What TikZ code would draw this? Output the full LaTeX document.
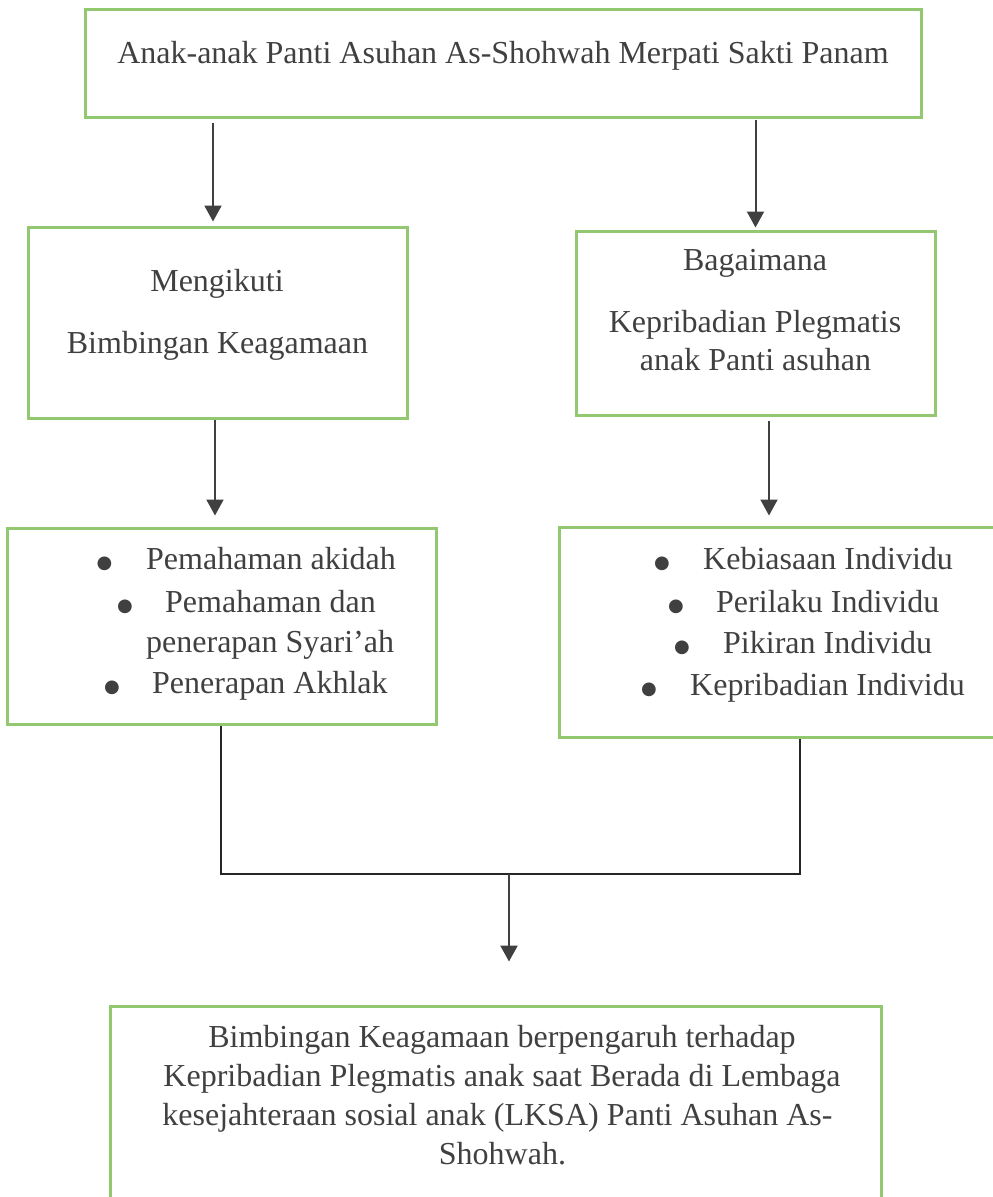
\documentclass[tikz,border=0pt]{standalone}
\usepackage{fontspec}
\setmainfont{Liberation Serif}
\newfontfamily\bulfont{DejaVu Sans}
\usetikzlibrary{arrows.meta,calc}
\definecolor{boxgreen}{RGB}{146,200,112}
\definecolor{inkgray}{RGB}{64,64,64}
\begin{document}
\begin{tikzpicture}[x=1pt,y=-1pt,
  box/.style={draw=boxgreen,line width=3pt,inner sep=0pt,fill=none},
  txt/.style={text=inkgray,font=\fontsize{32}{39}\selectfont,inner sep=0pt,anchor=base},
  ltxt/.style={txt,anchor=base west},
  bul/.style={text=inkgray,font=\bulfont\fontsize{18}{18}\selectfont,inner sep=0pt,anchor=base},
  arr/.style={draw=inkgray,line width=2pt,-{Triangle[width=17pt,length=16pt]}},
  conn/.style={draw=black!85,line width=1.6pt}]
\useasboundingbox (0,0) rectangle (993,1197);
\clip (0,0) rectangle (993,1197);
\fill[white] (0,0) rectangle (993,1197);

% boxes
\node[box,minimum width=836pt,minimum height=108pt] (top) at (503,63) {};
\node[box,minimum width=379pt,minimum height=191pt] (L1) at (217.5,322.5) {};
\node[box,minimum width=359pt,minimum height=184pt] (R1) at (755.5,323) {};
\node[box,minimum width=429pt,minimum height=196pt] (L2) at (222.3,626) {};
\node[box,minimum width=437pt,minimum height=210pt] (R2) at (777.5,632) {};
\node[box,minimum width=771pt,minimum height=224pt] (bot) at (495.5,1118) {};

% texts
\node[txt] (t0) at (503,63) {Anak-anak Panti Asuhan As-Shohwah Merpati Sakti Panam};
\node[txt] (l1a) at (217,291) {Mengikuti};
\node[txt] (l1b) at (217.5,353) {Bimbingan Keagamaan};
\node[txt] (r1a) at (755,270) {Bagaimana};
\node[txt] (r1b) at (755,332) {Kepribadian Plegmatis};
\node[txt] (r1c) at (755.5,370) {anak Panti asuhan};

\node[bul] (lb1) at (104.5,568) {●};
\node[ltxt] (l2a) at (146,569) {Pemahaman akidah};
\node[bul] (lb2) at (125,611) {●};
\node[ltxt] (l2b) at (165,612) {Pemahaman dan};
\node[ltxt] (l2c) at (146,652) {penerapan Syari’ah};
\node[bul] (lb3) at (112,692) {●};
\node[ltxt] (l2d) at (152,693) {Penerapan Akhlak};

\node[bul] (rb1) at (662,568) {●};
\node[ltxt] (r2a) at (703,569) {Kebiasaan Individu};
\node[bul] (rb2) at (676,611) {●};
\node[ltxt] (r2b) at (716,612) {Perilaku Individu};
\node[bul] (rb3) at (682,652) {●};
\node[ltxt] (r2c) at (723,653) {Pikiran Individu};
\node[bul] (rb4) at (649,694) {●};
\node[ltxt] (r2d) at (690,695) {Kepribadian Individu};

\node[txt] (b1) at (502,1047) {Bimbingan Keagamaan berpengaruh terhadap};
\node[txt] (b2) at (502,1086) {Kepribadian Plegmatis anak saat Berada di Lembaga};
\node[txt] (b3) at (497.5,1125) {kesejahteraan sosial anak (LKSA) Panti Asuhan As-};
\node[txt] (b4) at (502.5,1164) {Shohwah.};

% arrows
\coordinate (a1) at ($(L1.north)+(-4.5,0)$);
\draw[arr,shorten <=4pt,shorten >=4pt] (top.south -| a1) -- (a1);
\draw[arr,shorten <=1pt,shorten >=2pt] (top.south -| R1.north) -- (R1.north);
\coordinate (a3) at ($(L1.south)+(-2.5,0)$);
\draw[arr,shorten >=11pt] (a3) -- (a3 |- L2.north);
\coordinate (a4) at ($(R1.south)+(13.5,0)$);
\draw[arr,shorten <=4pt,shorten >=10pt] (a4) -- (a4 |- R2.north);

% joining lines
\coordinate (j) at (509,874);
\coordinate (rj) at ($(R2.south)+(22.5,0)$);
\draw[conn] ($(L2.south)+(-1.3,0)$) |- (j) -| (rj);
\draw[arr,line width=2.6pt,shorten >=43pt] (j) -- (j |- bot.north);
\end{tikzpicture}
\end{document}
